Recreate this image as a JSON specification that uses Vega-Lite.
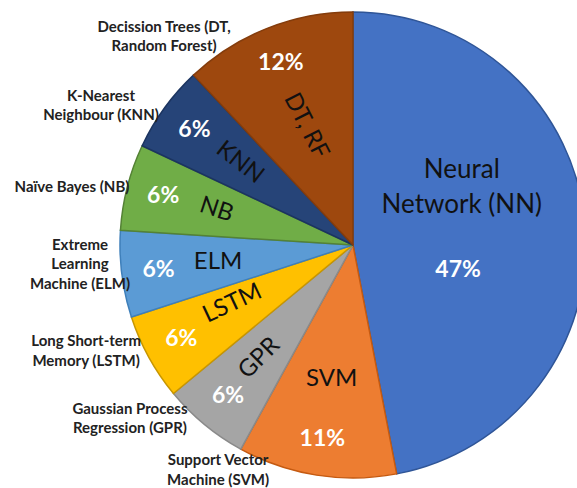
{
  "$schema": "https://vega.github.io/schema/vega-lite/v6.json",
  "width": 448,
  "height": 486,
  "autosize": {"type": "none"},
  "padding": {"left": 129, "top": 2, "right": 0, "bottom": 0},
  "background": "white",
  "config": {"view": {"stroke": null}, "text": {"font": "Lato"}},
  "data": {"values": [
    {"o": 1, "short": "Neural\nNetwork (NN)", "full": "", "share": 0.47},
    {"o": 2, "short": "SVM", "full": "Support Vector\nMachine (SVM)", "share": 0.11},
    {"o": 3, "short": "GPR", "full": "Gaussian Process\nRegression (GPR)", "share": 0.06},
    {"o": 4, "short": "LSTM", "full": "Long Short-term\nMemory (LSTM)", "share": 0.06},
    {"o": 5, "short": "ELM", "full": "Extreme\nLearning\nMachine (ELM)", "share": 0.06},
    {"o": 6, "short": "NB", "full": "Naïve Bayes (NB)", "share": 0.06},
    {"o": 7, "short": "KNN", "full": "K-Nearest\nNeighbour (KNN)", "share": 0.06},
    {"o": 8, "short": "DT, RF", "full": "Decission Trees (DT,\nRandom Forest)", "share": 0.12}
  ]},
  "encoding": {
    "theta": {"field": "share", "type": "quantitative", "stack": true},
    "order": {"field": "o", "type": "quantitative"},
    "detail": {"field": "o", "type": "nominal"}
  },
  "layer": [
    {
      "mark": {"type": "arc", "outerRadius": 233, "strokeWidth": 1.5},
      "encoding": {
        "color": {"field": "o", "type": "nominal", "legend": null,
          "scale": {"domain": [1,2,3,4,5,6,7,8], "range": ["#4472C4","#ED7D31","#A5A5A5","#FFC000","#5B9BD5","#70AD47","#264478","#9E480E"]}},
        "stroke": {"field": "o", "type": "nominal", "legend": null,
          "scale": {"domain": [1,2,3,4,5,6,7,8], "range": ["#2F5597","#C55A11","#8A8A8A","#C89600","#3E7FBA","#548235","#1B3460","#843C0C"]}}
      }
    },
    {
      "mark": {"type": "text", "radius": 196, "fontSize": 23, "fontWeight": "bold", "color": "white", "align": "center", "baseline": "middle"},
      "encoding": {"text": {"condition": {"test": "datum.o > 1", "field": "share", "type": "quantitative", "format": ".0%"}, "value": ""}}
    },
    {
      "mark": {"type": "text", "radius": 108, "thetaOffset": 0.328, "fontSize": 23, "fontWeight": "bold", "color": "white", "align": "center", "baseline": "middle"},
      "encoding": {"text": {"condition": {"test": "datum.o == 1", "field": "share", "type": "quantitative", "format": ".0%"}, "value": ""}}
    },
    {
      "mark": {"type": "text", "radius": 132, "thetaOffset": -0.508, "fontSize": 26, "lineHeight": 35, "lineBreak": "\n", "color": "#111111", "align": "center", "baseline": "middle"},
      "encoding": {"text": {"condition": {"test": "datum.o == 1", "field": "short"}, "value": ""}}
    },
    {
      "mark": {"type": "text", "radius": 136, "fontSize": 24, "color": "#111111", "align": "center", "baseline": "middle"},
      "encoding": {"text": {"condition": {"test": "datum.o == 2 || datum.o == 5", "field": "short"}, "value": ""}}
    },
    {
      "mark": {"type": "text", "radius": 147, "angle": -45, "fontSize": 24, "color": "#111111", "align": "center", "baseline": "middle"},
      "encoding": {"text": {"condition": {"test": "datum.o == 3", "field": "short"}, "value": ""}}
    },
    {
      "mark": {"type": "text", "radius": 134, "thetaOffset": 0.05, "angle": -25, "fontSize": 24, "color": "#111111", "align": "center", "baseline": "middle"},
      "encoding": {"text": {"condition": {"test": "datum.o == 4", "field": "short"}, "value": ""}}
    },
    {
      "mark": {"type": "text", "radius": 141, "angle": 18, "fontSize": 24, "color": "#111111", "align": "center", "baseline": "middle"},
      "encoding": {"text": {"condition": {"test": "datum.o == 6", "field": "short"}, "value": ""}}
    },
    {
      "mark": {"type": "text", "radius": 140, "angle": 38, "fontSize": 24, "color": "#111111", "align": "center", "baseline": "middle"},
      "encoding": {"text": {"condition": {"test": "datum.o == 7", "field": "short"}, "value": ""}}
    },
    {
      "mark": {"type": "text", "radius": 128, "angle": 63, "fontSize": 24, "color": "#111111", "align": "center", "baseline": "middle"},
      "encoding": {"text": {"condition": {"test": "datum.o == 8", "field": "short"}, "value": ""}}
    },
    {
      "mark": {"type": "text", "radius": 288.5, "thetaOffset": -0.337, "fontSize": 15, "fontWeight": "bold", "lineHeight": 19.5, "lineBreak": "\n", "color": "#222222", "align": "center", "baseline": "middle"},
      "encoding": {"text": {"condition": {"test": "datum.o == 8", "field": "full"}, "value": ""}}
    },
    {
      "mark": {"type": "text", "radius": 292.8, "thetaOffset": -0.094, "fontSize": 15, "fontWeight": "bold", "lineHeight": 19.5, "lineBreak": "\n", "color": "#222222", "align": "center", "baseline": "middle"},
      "encoding": {"text": {"condition": {"test": "datum.o == 7", "field": "full"}, "value": ""}}
    },
    {
      "mark": {"type": "text", "radius": 287, "thetaOffset": -0.047, "fontSize": 15, "fontWeight": "bold", "lineHeight": 19.5, "lineBreak": "\n", "color": "#222222", "align": "center", "baseline": "middle"},
      "encoding": {"text": {"condition": {"test": "datum.o == 6", "field": "full"}, "value": ""}}
    },
    {
      "mark": {"type": "text", "radius": 273, "thetaOffset": 0.126, "fontSize": 15, "fontWeight": "bold", "lineHeight": 19.5, "lineBreak": "\n", "color": "#222222", "align": "center", "baseline": "middle"},
      "encoding": {"text": {"condition": {"test": "datum.o == 5", "field": "full"}, "value": ""}}
    },
    {
      "mark": {"type": "text", "radius": 283.7, "thetaOffset": 0.157, "fontSize": 15, "fontWeight": "bold", "lineHeight": 19.5, "lineBreak": "\n", "color": "#222222", "align": "center", "baseline": "middle"},
      "encoding": {"text": {"condition": {"test": "datum.o == 4", "field": "full"}, "value": ""}}
    },
    {
      "mark": {"type": "text", "radius": 276.8, "thetaOffset": 0.246, "fontSize": 15, "fontWeight": "bold", "lineHeight": 19.5, "lineBreak": "\n", "color": "#222222", "align": "center", "baseline": "middle"},
      "encoding": {"text": {"condition": {"test": "datum.o == 3", "field": "full"}, "value": ""}}
    },
    {
      "mark": {"type": "text", "radius": 253.9, "thetaOffset": 0.403, "fontSize": 15, "fontWeight": "bold", "lineHeight": 19.5, "lineBreak": "\n", "color": "#222222", "align": "center", "baseline": "middle"},
      "encoding": {"text": {"condition": {"test": "datum.o == 2", "field": "full"}, "value": ""}}
    }
  ]
}
